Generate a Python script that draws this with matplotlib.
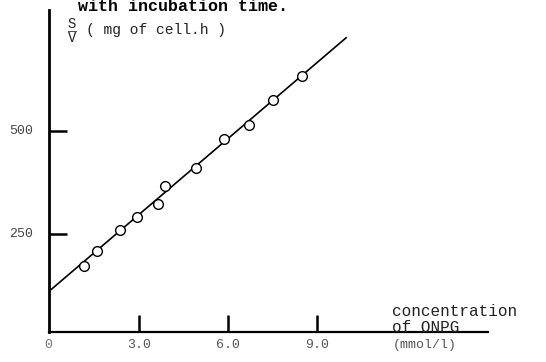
import matplotlib
matplotlib.use("Agg")
import matplotlib.pyplot as plt

# measured points (concentration of ONPG, S/V)
conc = [1.15, 1.59, 2.36, 2.94, 3.64, 3.89, 4.92, 5.86, 6.72, 7.50, 8.48]
s_over_v = [174, 210, 259, 292, 322, 367, 410, 479, 513, 574, 632]

# fitted straight line
fit_x = [0.05, 9.98]
fit_y = [117, 724]

xticks = [3.0, 6.0, 9.0]
xtick_labels = ["3.0", "6.0", "9.0"]
yticks = [250, 500]
ytick_labels = ["250", "500"]

mono = "Liberation Mono"
W, H = 546, 362

fig = plt.figure(figsize=(W / 100, H / 100), dpi=100)
ax = fig.add_axes([49 / W, 1 - 332 / H, (488 - 49) / W, (332 - 10) / H])

ax.plot(fit_x, fit_y, color="black", lw=1.2, zorder=2)
ax.plot(conc, s_over_v, "o", ms=7, mfc="white", mec="black", mew=1.0, zorder=3)

ax.set_xlim(-0.03, 14.76)
ax.set_ylim(14, 791)

for s in ["top", "right"]:
    ax.spines[s].set_visible(False)
ax.spines["left"].set_linewidth(2)
ax.spines["bottom"].set_linewidth(1.6)

ax.set_xticks(xticks)
ax.set_xticklabels([])
ax.set_yticks(yticks)
ax.set_yticklabels([])
ax.tick_params(axis="x", direction="in", length=12, width=1.8, color="black")
ax.tick_params(axis="y", direction="in", length=13, width=1.8, color="black")

# tick labels drawn as text in typewriter style
for x, lab in zip(xticks, xtick_labels):
    ax.annotate(lab, (x, 0), xycoords=("data", "axes fraction"),
                xytext=(0, -13), textcoords="offset pixels",
                ha="center", va="center", family=mono, fontsize=9.5, color="#555555")
ax.annotate("0", (0, 0), xycoords=("data", "axes fraction"),
            xytext=(-2, -13), textcoords="offset pixels",
            ha="center", va="center", family=mono, fontsize=9.5, color="#777777")
for y, lab in zip(yticks, ytick_labels):
    ax.annotate(lab, (0, y), xycoords=("axes fraction", "data"),
                xytext=(-28, 0), textcoords="offset pixels",
                ha="center", va="center", family=mono, fontsize=9.5, color="#444444")

# axis labels
fig.text(392 / W, 1 - 312 / H, "concentration", family=mono, fontsize=11.5,
         ha="left", va="center", color="#222222")
fig.text(392 / W, 1 - 327 / H, "of ONPG", family=mono, fontsize=11.5,
         ha="left", va="center", color="#222222")
fig.text(393 / W, 1 - 345 / H, "(mmol/l)", family=mono, fontsize=9.5,
         ha="left", va="center", color="#555555")

fig.text(72 / W, 1 - 24 / H, "S", family=mono, fontsize=10,
         ha="center", va="center", color="#222222")
fig.text(72 / W, 1 - 38 / H, "V", family=mono, fontsize=10,
         ha="center", va="center", color="#222222")
fig.add_artist(plt.Line2D([68 / W, 76 / W], [1 - 31 / H, 1 - 31 / H],
                          color="#555555", lw=0.8))
fig.text(86 / W, 1 - 30 / H, "( mg of cell.h )", family=mono, fontsize=10.5,
         ha="left", va="center", color="#222222")

# caption at the top edge of the scan
fig.text(78 / W, 1 - 11 / H, "with incubation time.", family=mono, fontsize=12,
         fontweight="bold", ha="left", va="baseline", color="black")

fig.savefig("out.png", dpi=100)
